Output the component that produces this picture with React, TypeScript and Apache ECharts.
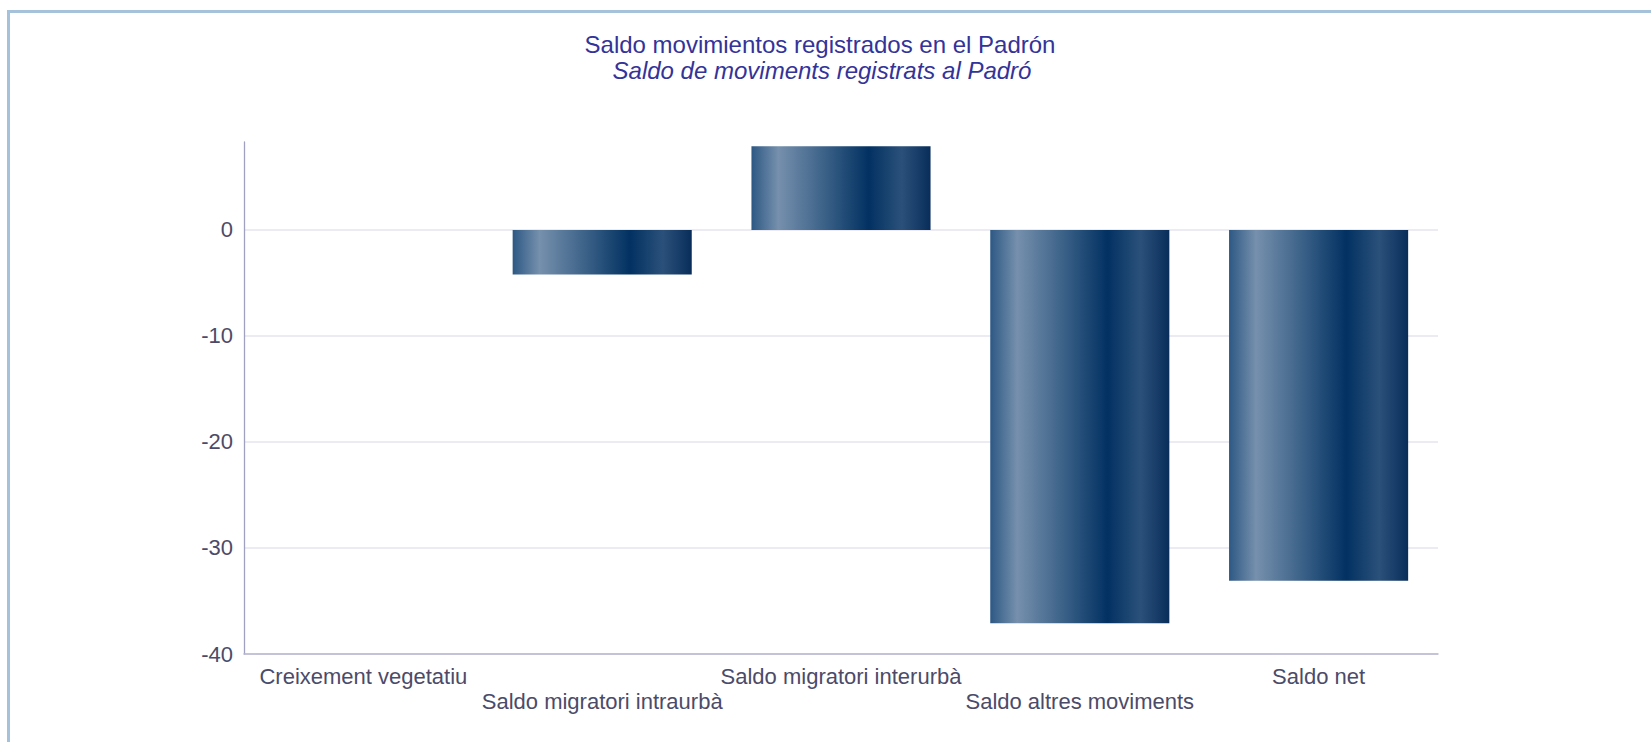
import React, { useEffect, useRef } from "react";
import * as echarts from "echarts";

const categories: string[] = [
  "Creixement vegetatiu",
  "Saldo migratori intraurbà",
  "Saldo migratori interurbà",
  "Saldo altres moviments",
  "Saldo net",
];
const values: number[] = [0, -4.2, 7.9, -37.1, -33.1];
const titleLine1 = "Saldo movimientos registrados en el Padrón";
const titleLine2 = "Saldo de moviments registrats al Padró";
const yMin = -40;
const yMax = 8.3;
const yInterval = 10;

const FONT = "'Liberation Sans', Arial, Helvetica, sans-serif";
const LABEL_COLOR = "#4b4b69";

export default function App() {
  const ref = useRef<HTMLDivElement>(null);

  useEffect(() => {
    if (!ref.current) return;
    const chart = echarts.init(ref.current, null, { renderer: "svg" });
    const gradient = new echarts.graphic.LinearGradient(0, 0, 1, 0, [
      { offset: 0, color: "#2d5884" },
      { offset: 0.15, color: "#7690ad" },
      { offset: 0.4, color: "#3d6389" },
      { offset: 0.655, color: "#023162" },
      { offset: 0.84, color: "#2b517a" },
      { offset: 1, color: "#082d5a" },
    ]);
    chart.setOption({
      animation: false,
      backgroundColor: "#ffffff",
      title: [
        {
          text: titleLine1,
          left: 810,
          top: 19,
          padding: 0,
          textAlign: "center",
          textStyle: {
            fontFamily: FONT,
            fontSize: 24,
            fontWeight: "normal",
            color: "#333399",
            lineHeight: 24,
          },
        },
        {
          text: titleLine2,
          left: 812,
          top: 45.5,
          padding: 0,
          textAlign: "center",
          textStyle: {
            fontFamily: FONT,
            fontSize: 24,
            fontWeight: "normal",
            fontStyle: "italic",
            color: "#333399",
            lineHeight: 24,
          },
        },
      ],
      grid: { left: 234, right: 213, top: 129, bottom: 88, containLabel: false },
      xAxis: {
        type: "category",
        data: categories,
        axisLine: { onZero: false, lineStyle: { color: "#b6b6cf", width: 1.5 } },
        axisTick: { show: false },
        axisLabel: {
          interval: 0,
          margin: 10,
          fontFamily: FONT,
          fontSize: 22,
          color: LABEL_COLOR,
          lineHeight: 25,
          formatter: (v: string, i: number) => (i % 2 === 1 ? "\n" + v : v),
        },
      },
      yAxis: {
        type: "value",
        min: yMin,
        max: yMax,
        interval: yInterval,
        axisLine: { show: true, lineStyle: { color: "#a0a0c0", width: 1.3 } },
        axisTick: { show: false },
        axisLabel: {
          margin: 11,
          fontFamily: FONT,
          fontSize: 22,
          color: LABEL_COLOR,
          showMaxLabel: false,
        },
        splitLine: {
          show: true,
          showMaxLine: false,
          lineStyle: { color: "#e6e5ef", width: 1.5 },
        },
      },
      series: [
        {
          type: "bar",
          data: values,
          barCategoryGap: "25%",
          itemStyle: { color: gradient },
        },
      ],
    });
    return () => chart.dispose();
  }, []);

  return (
    <div
      style={{
        position: "absolute",
        left: 7,
        top: 10,
        width: 1644,
        height: 732,
        boxSizing: "border-box",
        borderTop: "3px solid #a6c1da",
        borderLeft: "3px solid #a6c1da",
        background: "#ffffff",
      }}
    >
      <div ref={ref} style={{ width: 1641, height: 729 }} />
    </div>
  );
}
